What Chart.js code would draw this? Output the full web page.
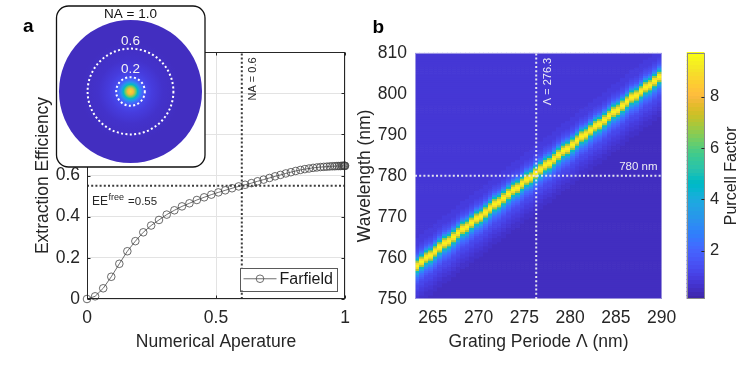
<!DOCTYPE html>
<html><head><meta charset="utf-8">
<script src="https://cdn.jsdelivr.net/npm/chart.js@4.4.0/dist/chart.umd.min.js"></script>
<style>
html,body{margin:0;padding:0;background:#fff;width:745px;height:385px;overflow:hidden}
canvas{position:absolute}
</style></head><body>
<canvas id="ca" width="362" height="385" style="left:0;top:0"></canvas>
<canvas id="cb" width="345" height="385" style="left:345px;top:0"></canvas>
<canvas id="cc" width="75" height="385" style="left:670px;top:0"></canvas>
<canvas id="ci" width="152" height="165" style="left:55px;top:4px"></canvas>
<script>
// ---------- data: panel a ----------
const naValues = [0,0.0314,0.0628,0.0941,0.1253,0.1564,0.1874,0.2181,0.2487,0.2790,0.3090,0.3387,0.3681,0.3971,0.4258,0.4540,0.4818,0.5090,0.5358,0.5621,0.5878,0.6129,0.6374,0.6613,0.6845,0.7071,0.7290,0.7501,0.7705,0.7902,0.8090,0.8271,0.8443,0.8607,0.8763,0.8910,0.9048,0.9178,0.9298,0.9409,0.9511,0.9603,0.9686,0.9759,0.9823,0.9877,0.9921,0.9956,0.9980,0.9995,1.0];
const eeValues = [0,0.013,0.052,0.108,0.171,0.232,0.281,0.324,0.357,0.384,0.410,0.431,0.450,0.465,0.481,0.494,0.507,0.518,0.528,0.538,0.547,0.555,0.563,0.572,0.580,0.588,0.596,0.603,0.610,0.616,0.622,0.627,0.631,0.634,0.637,0.639,0.641,0.642,0.643,0.644,0.645,0.645,0.646,0.646,0.646,0.647,0.647,0.647,0.647,0.647,0.647];
const naMarker = 0.6;
const eeFree = 0.55;
const xTicksA = [0, 0.5, 1];
const yTicksA = [0, 0.2, 0.4, 0.6, 0.8, 1.0, 1.2];
const yLabelsShownA = [0, 0.2, 0.4, 0.6];
// inset far-field radial profile (NA -> colormap level)
const insetNA = [0, 0.04, 0.07, 0.10, 0.13, 0.17, 0.22, 0.30, 0.45, 0.70, 1.0];
const insetLevel = [0.92, 0.82, 0.66, 0.47, 0.31, 0.19, 0.115, 0.075, 0.048, 0.032, 0.025];
const insetRings = [0.6, 0.2];

// ---------- data: panel b ----------
const periodStart = 263.05, periodEnd = 290.05, periodStep = 0.5;
const resonance = [758.4,759.3,760.1,761.0,761.9,762.7,763.6,764.5,765.3,766.2,767.1,767.9,768.8,769.7,770.5,771.4,772.3,773.1,774.0,774.8,775.7,776.6,777.4,778.3,779.2,780.0,780.9,781.8,782.6,783.5,784.4,785.2,786.1,787.0,787.8,788.7,789.6,790.4,791.3,792.1,793.0,793.9,794.7,795.6,796.5,797.3,798.2,799.1,799.9,800.8,801.7,802.5,803.4,804.3];
const wlStart = 750, wlStep = 0.5, wlRows = 120;
// Purcell factor vs detuning from resonance, -10..+10 nm in 0.5 nm steps
const profileStart = -10, profileStep = 0.5;
const profile = [0.5,0.53,0.57,0.62,0.68,0.75,0.83,0.92,1.02,1.13,1.25,1.4,1.6,1.9,2.3,2.8,3.6,4.9,7.0,8.9,9.5,8.9,6.9,4.7,3.1,2.2,1.7,1.38,1.17,1.03,0.95,0.89,0.85,0.82,0.8,0.78,0.77,0.76,0.75,0.75,0.75];
const bgBelow = 0.45, bgAbove = 0.75;
const periodMarker = 276.3, wlMarker = 780;
const xTicksB = [265, 270, 275, 280, 285, 290];
const yTicksB = [750, 760, 770, 780, 790, 800, 810];
const cbMin = 0.12, cbMax = 9.72;
const cbTicks = [2, 4, 6, 8];

// ---------- colormap ----------
const PARULA = [[0.2422,0.1504,0.6603],[0.2504,0.1650,0.7076],[0.2578,0.1818,0.7511],[0.2647,0.1978,0.7952],[0.2706,0.2147,0.8364],[0.2751,0.2342,0.8710],[0.2783,0.2559,0.8991],[0.2803,0.2782,0.9221],[0.2813,0.3006,0.9414],[0.2810,0.3228,0.9579],[0.2795,0.3447,0.9717],[0.2760,0.3667,0.9829],[0.2699,0.3892,0.9906],[0.2602,0.4123,0.9952],[0.2440,0.4358,0.9988],[0.2206,0.4603,0.9973],[0.1963,0.4847,0.9892],[0.1834,0.5074,0.9798],[0.1786,0.5289,0.9682],[0.1764,0.5499,0.9520],[0.1687,0.5703,0.9359],[0.1540,0.5902,0.9218],[0.1460,0.6091,0.9079],[0.1380,0.6276,0.8973],[0.1248,0.6459,0.8883],[0.1113,0.6635,0.8763],[0.0952,0.6798,0.8598],[0.0689,0.6948,0.8394],[0.0297,0.7082,0.8163],[0.0036,0.7203,0.7917],[0.0067,0.7312,0.7660],[0.0433,0.7411,0.7394],[0.0964,0.7500,0.7120],[0.1408,0.7584,0.6842],[0.1717,0.7670,0.6554],[0.1938,0.7758,0.6251],[0.2161,0.7843,0.5923],[0.2470,0.7918,0.5567],[0.2906,0.7973,0.5188],[0.3406,0.8008,0.4789],[0.3909,0.8029,0.4354],[0.4456,0.8024,0.3909],[0.5044,0.7993,0.3480],[0.5616,0.7942,0.3045],[0.6174,0.7876,0.2612],[0.6720,0.7793,0.2227],[0.7242,0.7698,0.1910],[0.7738,0.7598,0.1646],[0.8203,0.7498,0.1535],[0.8634,0.7406,0.1596],[0.9035,0.7330,0.1774],[0.9393,0.7288,0.2100],[0.9728,0.7298,0.2394],[0.9956,0.7434,0.2371],[0.9970,0.7659,0.2199],[0.9952,0.7893,0.2028],[0.9892,0.8136,0.1885],[0.9786,0.8386,0.1766],[0.9676,0.8639,0.1643],[0.9610,0.8890,0.1537],[0.9597,0.9135,0.1423],[0.9628,0.9373,0.1265],[0.9691,0.9606,0.1064],[0.9769,0.9839,0.0805]];
function parula(t){
  t = Math.max(0, Math.min(1, t));
  const c = PARULA[Math.round(t * (PARULA.length - 1))];
  return 'rgb(' + c.map(v => Math.round(v * 255)).join(',') + ')';
}

const FONT = "'Liberation Sans', Arial, Helvetica, sans-serif";
Chart.defaults.font.family = FONT;
Chart.defaults.color = '#262626';
Chart.defaults.animation = false;
const AX = '#262626';

function setTicks(list){ return s => { s.ticks = list.map(v => ({value: v})); }; }
function px(v){ return Math.round(v) + 0.5; }

// box + inward tick marks (MATLAB style)
const boxPlugin = {
  id: 'boxTicks',
  afterDatasetsDraw(chart, args, o){
    if (!o || !o.on) return;
    const {ctx, chartArea: a, scales: {x, y}} = chart;
    ctx.save();
    ctx.strokeStyle = o.color || AX; ctx.lineWidth = 1;
    const L = px(a.left), R = px(a.right) - 1, T = px(a.top), B = px(a.bottom) - 1;
    if (o.ticks) {
      ctx.beginPath();
      x.ticks.forEach(t => { const xx = px(x.getPixelForValue(t.value));
        ctx.moveTo(xx, B); ctx.lineTo(xx, B - 3); ctx.moveTo(xx, T); ctx.lineTo(xx, T + 3); });
      y.ticks.forEach(t => { const yy = px(y.getPixelForValue(t.value));
        ctx.moveTo(L, yy); ctx.lineTo(L + 3, yy); ctx.moveTo(R, yy); ctx.lineTo(R - 3, yy); });
      ctx.stroke();
    }
    ctx.strokeRect(L, T, R - L, B - T);
    ctx.restore();
  }
};

// ---------- panel a ----------
const annotA = {
  id: 'annotA',
  afterDatasetsDraw(chart){
    const {ctx, chartArea: a, scales: {x, y}} = chart;
    ctx.save();
    ctx.fillStyle = AX;
    ctx.save();
    ctx.translate(x.getPixelForValue(naMarker) + 11.5, 79);
    ctx.rotate(-Math.PI / 2);
    ctx.font = '11px ' + FONT; ctx.textAlign = 'center'; ctx.textBaseline = 'middle';
    ctx.fillText('NA = ' + naMarker, 0, 0);
    ctx.restore();
    const by = y.getPixelForValue(eeFree) + 19;
    let lx = a.left + 5;
    ctx.textBaseline = 'alphabetic'; ctx.textAlign = 'left';
    ctx.font = '12px ' + FONT; ctx.fillText('EE', lx, by); lx += ctx.measureText('EE').width + 0.5;
    ctx.font = '9px ' + FONT; ctx.fillText('free', lx, by - 5); lx += ctx.measureText('free').width + 4;
    ctx.font = '11.5px ' + FONT; ctx.fillText('=' + eeFree, lx, by);
    // legend
    const lR = a.right - 8.5, lB = a.bottom - 9, lW = 97, lH = 22.5;
    const lL = lR - lW, lT = lB - lH;
    ctx.fillStyle = '#fff'; ctx.fillRect(lL, lT, lW, lH);
    ctx.strokeStyle = '#5a5a5a'; ctx.lineWidth = 1; ctx.strokeRect(px(lL), px(lT), Math.round(lW), Math.round(lH));
    const my = lT + lH / 2;
    ctx.strokeStyle = '#4a4a4a'; ctx.lineWidth = 0.8;
    ctx.beginPath(); ctx.moveTo(lL + 4, my); ctx.lineTo(lL + 37, my); ctx.stroke();
    ctx.beginPath(); ctx.arc(lL + 20.5, my, 3.8, 0, Math.PI * 2); ctx.stroke();
    ctx.fillStyle = '#1a1a1a'; ctx.font = '16px ' + FONT; ctx.textBaseline = 'middle';
    ctx.fillText('Farfield', lL + 40, my + 0.5);
    ctx.font = 'bold 19px ' + FONT; ctx.fillStyle = '#000'; ctx.textBaseline = 'alphabetic';
    ctx.fillText('a', 23, 32);
    ctx.restore();
  }
};

new Chart(document.getElementById('ca'), {
  type: 'scatter',
  data: { datasets: [
    { data: [{x: naMarker, y: 0}, {x: naMarker, y: 1.2}], showLine: true, borderColor: '#3c3c3c', borderWidth: 2, borderDash: [2, 2.2], pointRadius: 0 },
    { data: [{x: 0, y: eeFree}, {x: 1, y: eeFree}], showLine: true, borderColor: '#3c3c3c', borderWidth: 2, borderDash: [2, 2.2], pointRadius: 0 },
    { label: 'Farfield', data: naValues.map((v, i) => ({x: v, y: eeValues[i]})), showLine: true,
      borderColor: '#4a4a4a', borderWidth: 0.8, pointRadius: 3.8, pointBorderWidth: 0.8,
      pointBorderColor: '#454545', pointBackgroundColor: 'rgba(0,0,0,0)', clip: 8 }
  ]},
  options: {
    responsive: false, devicePixelRatio: 1, animation: false,
    layout: { padding: { top: 52, right: 17, bottom: 0, left: 0 } },
    plugins: { legend: { display: false }, tooltip: { enabled: false }, boxTicks: { on: true, ticks: true } },
    scales: {
      x: { type: 'linear', min: 0, max: 1, afterBuildTicks: setTicks(xTicksA), afterFit: s => { s.height = 86; },
           grid: { color: '#e3e3e3', drawTicks: false }, border: { display: false },
           ticks: { font: { size: 17.5 }, padding: 9, color: AX, callback: v => String(v) },
           title: { display: true, text: 'Numerical Aperature', font: { size: 17.5 }, color: AX, padding: { top: 0, bottom: 32.5 } } },
      y: { type: 'linear', min: 0, max: 1.2, afterBuildTicks: setTicks(yTicksA), afterFit: s => { s.width = 87; },
           grid: { color: '#e3e3e3', drawTicks: false }, border: { display: false },
           ticks: { font: { size: 17.5 }, padding: 7, color: AX, callback: v => (yLabelsShownA.some(u => Math.abs(u - v) < 1e-6) ? String(Math.round(v * 10) / 10) : '') },
           title: { display: true, text: 'Extraction Efficiency', font: { size: 17.5 }, color: AX, padding: { top: 33, bottom: 0 } } }
    }
  },
  plugins: [boxPlugin, annotA]
});

// ---------- inset ----------
const insetPlugin = {
  id: 'inset',
  beforeDatasetsDraw(chart){
    const {ctx, scales: {x, y}} = chart;
    ctx.save();
    const bx = 1.5, by = 2, bw = 148.5, bh = 161, r = 12;
    ctx.beginPath();
    ctx.moveTo(bx + r, by); ctx.lineTo(bx + bw - r, by); ctx.arcTo(bx + bw, by, bx + bw, by + r, r);
    ctx.lineTo(bx + bw, by + bh - r); ctx.arcTo(bx + bw, by + bh, bx + bw - r, by + bh, r);
    ctx.lineTo(bx + r, by + bh); ctx.arcTo(bx, by + bh, bx, by + bh - r, r);
    ctx.lineTo(bx, by + r); ctx.arcTo(bx, by, bx + r, by, r); ctx.closePath();
    ctx.fillStyle = '#fff'; ctx.fill();
    ctx.strokeStyle = '#111'; ctx.lineWidth = 1.3; ctx.stroke();
    const cx = x.getPixelForValue(0), cy = y.getPixelForValue(0);
    const R = x.getPixelForValue(1) - cx;
    const g = ctx.createRadialGradient(cx, cy, 0, cx, cy, R);
    insetNA.forEach((na, i) => g.addColorStop(na, parula(insetLevel[i])));
    ctx.beginPath(); ctx.arc(cx, cy, R, 0, Math.PI * 2); ctx.fillStyle = g; ctx.fill();
    ctx.strokeStyle = '#ffffff'; ctx.lineWidth = 2; ctx.setLineDash([2, 2.4]);
    insetRings.forEach(na => { ctx.beginPath(); ctx.arc(cx, cy, x.getPixelForValue(na) - cx, 0, Math.PI * 2); ctx.stroke(); });
    ctx.setLineDash([]);
    ctx.textAlign = 'center'; ctx.textBaseline = 'middle';
    ctx.font = '13.5px ' + FONT;
    ctx.fillStyle = '#111'; ctx.fillText('NA = 1.0', cx, 10.5);
    ctx.fillStyle = '#f4f4f4';
    insetRings.forEach(na => ctx.fillText(String(na), cx, y.getPixelForValue(na) - 7.5));
    ctx.restore();
  }
};
const Rpx = 71.5, icx = 75.5, icy = 87.5;
new Chart(document.getElementById('ci'), {
  type: 'scatter',
  data: { datasets: [] },
  options: {
    responsive: false, devicePixelRatio: 1, animation: false,
    layout: { padding: 0 },
    plugins: { legend: { display: false }, tooltip: { enabled: false } },
    scales: {
      x: { display: false, min: -icx / Rpx, max: (152 - icx) / Rpx },
      y: { display: false, min: -(165 - icy) / Rpx, max: icy / Rpx }
    }
  },
  plugins: [insetPlugin]
});

// ---------- panel b ----------
const heatPlugin = {
  id: 'heat',
  beforeDatasetsDraw(chart){
    const {ctx, chartArea: a, scales: {x, y}} = chart;
    ctx.save();
    ctx.beginPath(); ctx.rect(a.left, a.top, a.right - a.left, a.bottom - a.top); ctx.clip();
    for (let k = 0; k < resonance.length; k++) {
      const p0 = periodStart + k * periodStep, p1 = p0 + periodStep;
      const x0 = Math.floor(x.getPixelForValue(p0)), x1 = Math.ceil(x.getPixelForValue(p1));
      for (let j = 0; j < wlRows; j++) {
        const w0 = wlStart + j * wlStep, w1 = w0 + wlStep;
        const d = (w0 + w1) / 2 - resonance[k];
        const i = Math.round((d - profileStart) / profileStep);
        const v = i < 0 ? bgBelow : (i >= profile.length ? bgAbove : profile[i]);
        ctx.fillStyle = parula((v - cbMin) / (cbMax - cbMin));
        const ya = y.getPixelForValue(w1), yb = y.getPixelForValue(w0);
        ctx.fillRect(x0, ya, x1 - x0, yb - ya + 0.7);
      }
    }
    ctx.restore();
  },
  afterDatasetsDraw(chart){
    const {ctx, chartArea: a, scales: {x, y}} = chart;
    ctx.save();
    ctx.strokeStyle = 'rgba(225,225,240,0.55)'; ctx.lineWidth = 1;
    ctx.strokeRect(px(a.left), px(a.top), Math.round(a.right - a.left) - 1, Math.round(a.bottom - a.top) - 1);
    ctx.fillStyle = '#ececf4';
    ctx.save();
    ctx.translate(x.getPixelForValue(periodMarker) + 12, 81.5);
    ctx.rotate(-Math.PI / 2);
    ctx.font = '11px ' + FONT; ctx.textAlign = 'center'; ctx.textBaseline = 'middle';
    ctx.fillText('Λ = ' + periodMarker, 0, 0);
    ctx.restore();
    ctx.font = '11.5px ' + FONT; ctx.textAlign = 'right'; ctx.textBaseline = 'middle';
    ctx.fillText(wlMarker + ' nm', a.right - 4.5, y.getPixelForValue(wlMarker) - 9);
    ctx.font = 'bold 19px ' + FONT; ctx.fillStyle = '#000'; ctx.textAlign = 'left'; ctx.textBaseline = 'alphabetic';
    ctx.fillText('b', 27.5, 33);
    ctx.restore();
  }
};
new Chart(document.getElementById('cb'), {
  type: 'scatter',
  data: { datasets: [
    { data: [{x: periodMarker, y: 750}, {x: periodMarker, y: 810}], showLine: true, borderColor: '#e4e4ee', borderWidth: 2, borderDash: [2, 2.2], pointRadius: 0 },
    { data: [{x: periodStart, y: wlMarker}, {x: periodEnd, y: wlMarker}], showLine: true, borderColor: '#e4e4ee', borderWidth: 2, borderDash: [2, 2.2], pointRadius: 0 }
  ]},
  options: {
    responsive: false, devicePixelRatio: 1, animation: false,
    layout: { padding: { top: 52.7, right: 28, bottom: 0, left: 0 } },
    plugins: { legend: { display: false }, tooltip: { enabled: false } },
    scales: {
      x: { type: 'linear', min: periodStart, max: periodEnd, afterBuildTicks: setTicks(xTicksB), afterFit: s => { s.height = 86; },
           grid: { display: false, drawTicks: false }, border: { display: false },
           ticks: { font: { size: 17.5 }, padding: 9, color: AX, callback: v => String(v) },
           title: { display: true, text: 'Grating Periode Λ (nm)', font: { size: 17.5 }, color: AX, padding: { top: 0, bottom: 32.5 } } },
      y: { type: 'linear', min: 750, max: 810, afterBuildTicks: setTicks(yTicksB), afterFit: s => { s.width = 70; },
           grid: { display: false, drawTicks: false }, border: { display: false },
           ticks: { font: { size: 17.5 }, padding: 8, color: AX, callback: v => String(v) },
           title: { display: true, text: 'Wavelength (nm)', font: { size: 17.5 }, color: AX, padding: { top: 9.5, bottom: 0 } } }
    }
  },
  plugins: [heatPlugin]
});

// ---------- colorbar ----------
const cbPlugin = {
  id: 'cbar',
  beforeDatasetsDraw(chart){
    const {ctx, chartArea: a, scales: {y}} = chart;
    ctx.save();
    const n = PARULA.length, step = (cbMax - cbMin) / n;
    for (let i = 0; i < n; i++) {
      const v0 = cbMin + i * step, v1 = v0 + step;
      const ya = y.getPixelForValue(v1), yb = y.getPixelForValue(v0);
      ctx.fillStyle = parula(i / (n - 1));
      ctx.fillRect(a.left, Math.floor(ya), a.right - a.left, Math.ceil(yb) - Math.floor(ya));
    }
    ctx.strokeStyle = '#8a8a8a'; ctx.lineWidth = 1;
    ctx.strokeRect(px(a.left), px(a.top), Math.round(a.right - a.left) - 1, Math.round(a.bottom - a.top) - 1);
    ctx.strokeStyle = AX; ctx.beginPath();
    cbTicks.forEach(t => { const yy = px(y.getPixelForValue(t)); ctx.moveTo(a.right, yy); ctx.lineTo(a.right - 3, yy); });
    ctx.stroke();
    ctx.save();
    ctx.translate(62, (a.top + a.bottom) / 2);
    ctx.rotate(-Math.PI / 2);
    ctx.fillStyle = AX; ctx.font = '16px ' + FONT; ctx.textAlign = 'center'; ctx.textBaseline = 'middle';
    ctx.fillText('Purcell Factor', 0, 0);
    ctx.restore();
    ctx.restore();
  }
};
new Chart(document.getElementById('cc'), {
  type: 'scatter',
  data: { datasets: [] },
  options: {
    responsive: false, devicePixelRatio: 1, animation: false,
    layout: { padding: { top: 52.7, right: 0, bottom: 86, left: 16.7 } },
    plugins: { legend: { display: false }, tooltip: { enabled: false } },
    scales: {
      x: { display: false, min: 0, max: 1 },
      y: { position: 'right', min: cbMin, max: cbMax, afterBuildTicks: setTicks(cbTicks), afterFit: s => { s.width = 40.6; },
           grid: { display: false, drawTicks: false }, border: { display: false },
           ticks: { font: { size: 16.5 }, padding: 5.5, color: AX, callback: v => String(v) } }
    }
  },
  plugins: [cbPlugin]
});
</script>
</body></html>
